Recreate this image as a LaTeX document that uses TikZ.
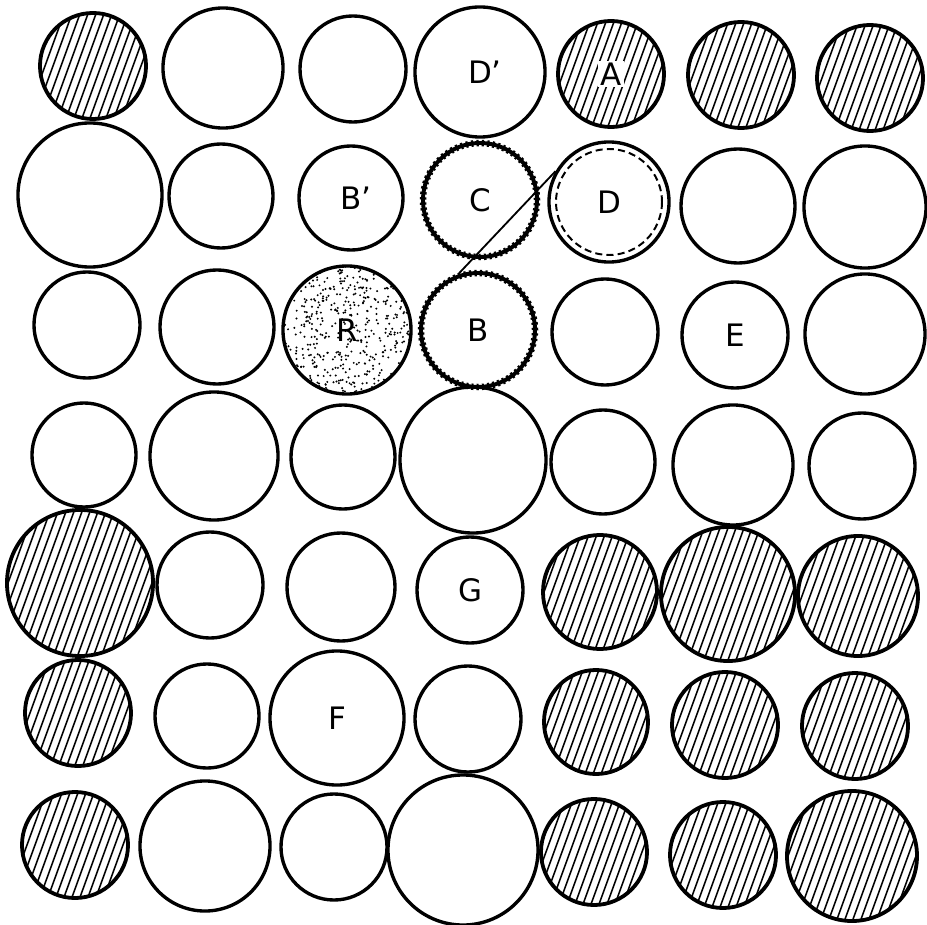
\documentclass[tikz,border=0pt]{standalone}
\usepackage{fontspec}
\setmainfont{DejaVu Sans}

\begin{document}
\begin{tikzpicture}[x=0.025cm, y=-0.025cm,
    plain/.style={circle, draw, line width=2.4pt, inner sep=0pt, minimum size=#1*0.05cm,
        font=\fontsize{22}{26}\selectfont},
    hatched/.style={plain=#1, line width=2.7pt,
        path picture={
            \foreach \s in {-104,-96,...,104}
                \draw[line width=1.1pt] ([shift={(\s-32,88)}]path picture bounding box.center) -- ++(64,-176);
        }},
    stippled/.style={plain=#1,
        path picture={
            \foreach \k in {1,...,520}
                \fill ([shift={(64*rand,64*rand)}]path picture bounding box.center) circle (1.1);
        }},
    bumpy/.style={plain=#1, line width=2.8pt,
        postaction={draw, line width=4.6pt, dash pattern=on 1.6pt off 2.2pt}},
    ring/.style={line width=1.4pt, dash pattern=on 5pt off 3pt},
    link/.style={line width=1.3pt}
]
    \useasboundingbox (0,0) rectangle (927,925);
    \pgfmathsetseed{17}

    % leere Kreise
    \foreach \nm/\x/\y/\r in {n12/223/68/60, n13/353/69/53,
        n21/90/195/72, n22/221/196/52, n26/738/206/57, n27/865/207/61,
        n31/87/325/53, n32/217/327/57, n35/605/332/53, n37/865/334/60,
        n41/84/455/52, n42/214/456/64, n43/343/457/52, n44/473/460/73,
        n45/603/462/52, n46/733/465/60, n47/862/466/53,
        n52/210/585/53, n53/341/587/54,
        n62/207/716/52, n64/468/719/53,
        n72/205/846/65, n73/334/847/53, n74/463/850/75}
        \node[plain=\r] (\nm) at (\x,\y) {};

    % schraffierte Kreise
    \foreach \nm/\x/\y/\r in {n11/93/66/53, n16/741/75/53, n17/870/78/53,
        n51/80/583/73, n55/600/592/57, n56/728/594/67, n57/858/596/60,
        n61/78/713/53, n65/596/722/52, n66/725/725/53, n67/855/726/53,
        n71/75/845/53, n75/594/852/53, n76/723/855/53, n77/852/856/65}
        \node[hatched=\r] (\nm) at (\x,\y) {};

    \node[hatched=53] (A) at (611,74) {};
    \node[fill=white, inner sep=1.5pt, font=\fontsize{22}{26}\selectfont] (labA) at (A) {A};

    % beschriftete Kreise
    \node[plain=65] (Dp) at (480,72) {D\rlap{'}};
    \node[plain=52] (Bp) at (351,198) {B\rlap{'}};
    \node[bumpy=57] (C) at (480,200) {C};
    \node[plain=60] (D) at (609,202) {D};
    \draw[ring] (D.center) circle (53);
    \node[stippled=64] (R) at (347,330) {R};
    \node[bumpy=57] (B) at (478,330) {B};
    \node[plain=53] (E) at (735,335) {E};
    \node[plain=53] (G) at (470,590) {G};
    \node[plain=67] (F) at (337,718) {F};

    % Verbindung
    \draw[link] (B.110) -- (D.150);
\end{tikzpicture}
\end{document}
